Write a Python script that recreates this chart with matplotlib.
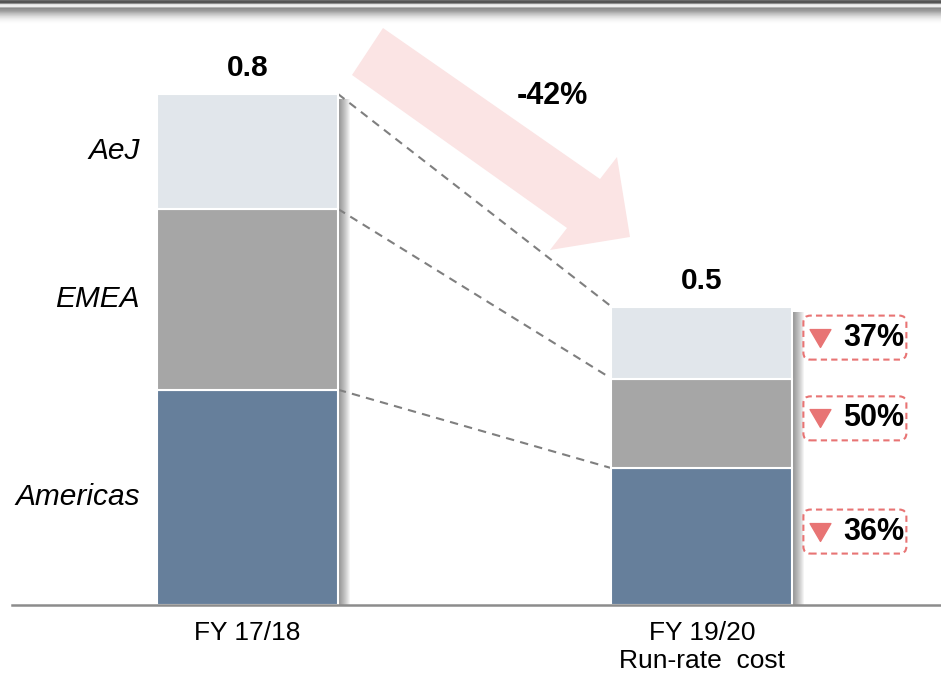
import numpy as np
import matplotlib
matplotlib.use("Agg")
import matplotlib.pyplot as plt
from matplotlib.patches import Polygon, FancyBboxPatch, Rectangle
from matplotlib.lines import Line2D
from matplotlib.transforms import IdentityTransform
from matplotlib.path import Path

plt.rcParams["font.family"] = ["Liberation Sans", "DejaVu Sans"]

# ---- data -------------------------------------------------------------
categories = ["FY 17/18", "FY 19/20\nRun-rate  cost"]
regions = ["Americas", "EMEA", "AeJ"]
americas = [0.337, 0.2142]
emea = [0.283, 0.1402]
aej = [0.180, 0.1126]

colors = {"Americas": "#667F9B", "EMEA": "#A6A6A6", "AeJ": "#E1E6EB"}
red = "#E87474"

W, H, DPI = 941, 674, 100
fig = plt.figure(figsize=(W / DPI, H / DPI), dpi=DPI)
fig.patch.set_facecolor("white")
ident = IdentityTransform()

# ---- header band --------------------------------------------------------
hdr = fig.add_axes([0, 1 - 26 / H, 1, 26 / H])
band = np.array([0.42, 0.33, 0.33, 0.55, 0.88, 0.93, 0.93, 0.70, 0.55, 0.58,
                 0.60, 0.64, 0.69, 0.74, 0.78, 0.82, 0.86, 0.89, 0.92, 0.945,
                 0.96, 0.975, 0.985, 0.993, 0.998, 1.0])
hdr.imshow(band[:, None], cmap="gray", vmin=0, vmax=1, aspect="auto",
           extent=[0, 1, 0, 1], interpolation="bilinear")
hdr.axis("off")

# ---- main axes ----------------------------------------------------------
ax = fig.add_axes([12 / W, 69 / H, 929 / W, 575 / H])
ax.set_xlim(-0.518, 1.526)
ax.set_ylim(0, 0.9)
ax.patch.set_alpha(0)
for s in ("top", "right", "left"):
    ax.spines[s].set_visible(False)
ax.spines["bottom"].set_color("#8C8C8C")
ax.spines["bottom"].set_linewidth(1.8)
ax.spines["bottom"].set_zorder(4)
ax.set_xticks([])
ax.set_yticks([])

x = np.arange(len(categories))
bw = 0.398
px = 1 / 454.5          # one pixel in x data units
py = 0.9 / 575          # one pixel in y data units

stack = [americas, emea, aej]
bottoms = np.zeros(len(categories))
seg_bottoms = []
for name, vals in zip(regions, stack):
    vals = np.asarray(vals)
    ax.bar(x, vals, bw, bottom=bottoms, color=colors[name],
           edgecolor="white", linewidth=1.5, zorder=3)
    seg_bottoms.append(bottoms.copy())
    bottoms = bottoms + vals
totals = bottoms

# soft drop shadow on the right of each bar
for xi, t in zip(x, totals):
    for k in range(13):
        ax.add_patch(Rectangle((xi + bw / 2 - 2 * px, 0), (k + 2) * px, t - 5 * py,
                               color="black", alpha=0.045, lw=0, zorder=2))

# region names beside the first bar
for name, vals, b in zip(regions, stack, seg_bottoms):
    ax.text(x[0] - bw / 2 - 17 * px, b[0] + vals[0] / 2, name, ha="right",
            va="center", style="italic", fontsize=21.5, color="black")

# connectors between matching segment tops
for vals, b in zip(stack, seg_bottoms):
    ax.plot([x[0] + bw / 2, x[1] - bw / 2], [b[0] + vals[0], b[1] + vals[1]],
            ls=(0, (4, 3)), color="#7F7F7F", lw=1.5, zorder=2)

# totals above bars
for xi, t in zip(x, totals):
    ax.annotate(f"{t:.1f}", (xi, t), xytext=(0, 18.5), textcoords="offset points",
                ha="center", va="center", fontsize=21.5, fontweight="bold")

# overall change arrow and label
arrow_px = [(383, 28), (600, 179), (617, 157), (630, 237), (550, 250), (567, 228), (352, 75)]
ax.add_patch(Polygon([(a, H - b) for a, b in arrow_px], closed=True, transform=ident,
                     fc="#FBE4E4", ec="none", zorder=1, clip_on=False))
change = round((1 - totals[1] / totals[0]) * 100)
ax.text(0.672, 0.797, f"-{change}%", ha="center", va="center",
        fontsize=22, fontweight="bold")

# per-region reduction badges
fig.canvas.draw()
tri = Path([(-1, 0.857), (1, 0.857), (0, -0.857), (-1, 0.857)],
           [Path.MOVETO, Path.LINETO, Path.LINETO, Path.CLOSEPOLY])
right_edge = ax.transData.transform((x[1] + bw / 2, 0))[0]
for vals, b in zip(stack, seg_bottoms):
    cy = ax.transData.transform((0, b[1] + vals[1] / 2))[1] + 5
    left = right_edge + 11
    box = FancyBboxPatch((left, cy - 22), 103, 44,
                         boxstyle="round,pad=0,rounding_size=7", transform=ident,
                         fc="white", ec=red, lw=1.5, ls=(0, (3, 2)), zorder=4)
    fig.add_artist(box)
    fig.add_artist(Line2D([left + 17], [cy], marker=tri, markersize=15,
                          color=red, lw=0, transform=ident, zorder=5))
    pct = round((1 - vals[1] / vals[0]) * 100)
    fig.text(left + 70, cy, f"{pct}%", transform=ident, ha="center",
             va="center", fontsize=22, fontweight="bold", zorder=5)

# category labels
for xi, lab in zip(x, categories):
    ax.annotate(lab, (xi, 0), xytext=(0, -11.5), textcoords="offset points",
                ha="center", va="top", fontsize=19, linespacing=1.2)

fig.savefig("out.png", dpi=DPI)
